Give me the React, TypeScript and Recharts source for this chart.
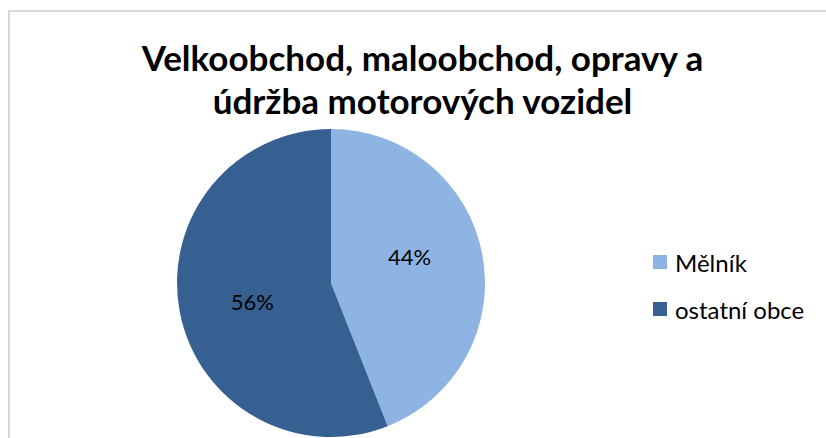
import React from "react";
import { PieChart, Pie, Cell } from "recharts";

const categories = ["Mělník", "ostatní obce"];
const shares = [44, 56];
const colors = ["#8EB4E3", "#376092"];
const titleLines = ["Velkoobchod, maloobchod, opravy a", "údržba motorových vozidel"];

const data = categories.map((name, i) => ({ name, value: shares[i] }));

const RAD = Math.PI / 180;
const renderLabel = (props: any) => {
  const { cx, cy, midAngle, outerRadius, value } = props;
  const r = outerRadius * 0.52;
  const x = cx + r * Math.cos(-midAngle * RAD);
  const y = cy + 1.5 * r * Math.sin(-midAngle * RAD) - 4;
  return (
    <text x={x} y={y} textAnchor="middle" dominantBaseline="central" fill="#000" fontSize={22} fontFamily="Lato, 'Open Sans', sans-serif">
      {value}%
    </text>
  );
};

export default function App() {
  return (
    <div style={{ position: "absolute", left: 0, top: 0, width: 826, height: 438, overflow: "hidden", background: "#fff", fontFamily: "Lato, 'Open Sans', sans-serif" }}>
      <div style={{ position: "absolute", left: 8, top: 10, width: 840, height: 460, border: "2px solid #D9D9D9", boxSizing: "border-box" }} />
      <div style={{ position: "absolute", left: 0, top: 36, width: 845, textAlign: "center", fontWeight: 700, fontSize: 35, lineHeight: "43px", color: "#000" }}>
        {titleLines.map((t) => (
          <div key={t}>{t}</div>
        ))}
      </div>
      <div style={{ position: "absolute", left: 0, top: 0 }}>
        <PieChart width={826} height={438}>
          <Pie
            data={data}
            dataKey="value"
            nameKey="name"
            cx={326}
            cy={278}
            outerRadius={154}
            startAngle={90}
            endAngle={-270}
            stroke="none"
            labelLine={false}
            label={renderLabel}
            isAnimationActive={false}
          >
            {data.map((d, i) => (
              <Cell key={d.name} fill={colors[i]} />
            ))}
          </Pie>
        </PieChart>
      </div>
      {categories.map((c, i) => (
        <div key={c} style={{ position: "absolute", left: 653, top: 247 + i * 47, height: 30, display: "flex", alignItems: "center", fontSize: 24, color: "#000", whiteSpace: "nowrap" }}>
          <span style={{ display: "inline-block", width: 14, height: 14, background: colors[i], marginRight: 8 }} />
          <span>{c}</span>
        </div>
      ))}
    </div>
  );
}
